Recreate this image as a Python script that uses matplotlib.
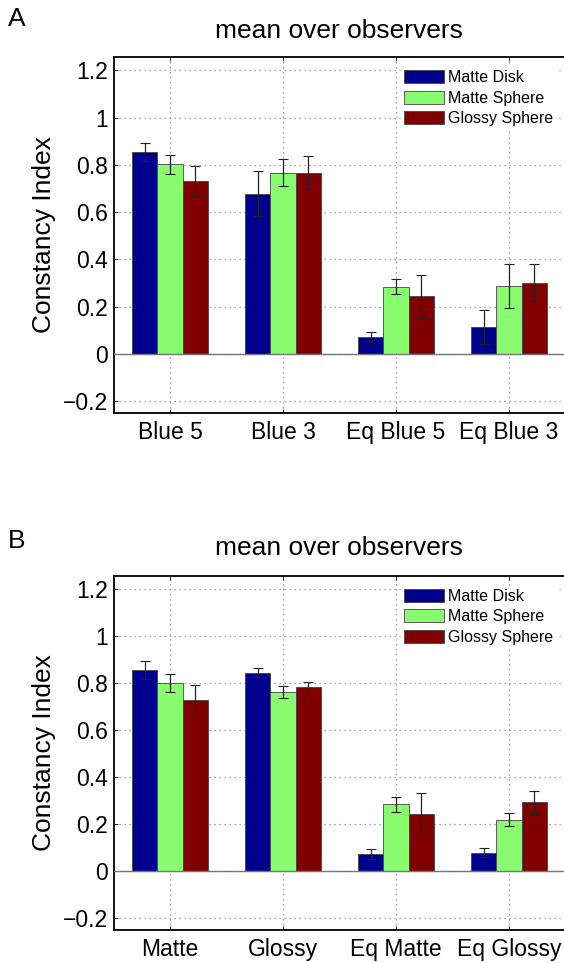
import numpy as np
import matplotlib
matplotlib.use("Agg")
import matplotlib.pyplot as plt

plt.rcParams['font.family'] = ['Liberation Sans', 'DejaVu Sans']

series = ["Matte Disk", "Matte Sphere", "Glossy Sphere"]
colors = ["#00008F", "#88FB6E", "#800000"]

cats_a = ["Blue 5", "Blue 3", "Eq Blue 5", "Eq Blue 3"]
vals_a = {
    "Matte Disk":    [0.856, 0.679, 0.072, 0.114],
    "Matte Sphere":  [0.802, 0.768, 0.285, 0.288],
    "Glossy Sphere": [0.731, 0.768, 0.244, 0.302],
}
errs_a = {
    "Matte Disk":    [0.038, 0.094, 0.022, 0.073],
    "Matte Sphere":  [0.039, 0.057, 0.031, 0.092],
    "Glossy Sphere": [0.064, 0.070, 0.090, 0.079],
}

cats_b = ["Matte", "Glossy", "Eq Matte", "Eq Glossy"]
vals_b = {
    "Matte Disk":    [0.855, 0.844, 0.072, 0.079],
    "Matte Sphere":  [0.800, 0.762, 0.285, 0.219],
    "Glossy Sphere": [0.729, 0.782, 0.244, 0.294],
}
errs_b = {
    "Matte Disk":    [0.038, 0.019, 0.022, 0.019],
    "Matte Sphere":  [0.039, 0.026, 0.031, 0.028],
    "Glossy Sphere": [0.064, 0.024, 0.090, 0.049],
}

yticks = [-0.2, 0, 0.2, 0.4, 0.6, 0.8, 1, 1.2]
yticklabels = ["\u22120.2", "0", "0.2", "0.4", "0.6", "0.8", "1", "1.2"]

W, H = 564, 963
fig = plt.figure(figsize=(W / 100, H / 100), dpi=100)


def panel(rect, cats, vals, errs, letter, title_y, letter_y):
    ax = fig.add_axes(rect)
    x = np.arange(1, len(cats) + 1)
    bw = 0.225
    for i, s in enumerate(series):
        xs = x + (i - 1) * bw
        ax.bar(xs, vals[s], width=bw, color=colors[i], edgecolor="#444444",
               linewidth=0.6, label=s, zorder=3)
        ax.errorbar(xs, vals[s], yerr=errs[s], fmt="none", ecolor="#222222",
                    elinewidth=0.9, capsize=3.5, capthick=0.8, zorder=4)
    ax.axhline(0, color="#777777", linewidth=1.0, zorder=3.5)
    ax.set_xlim(0.5, 4.5)
    ax.set_ylim(-0.25, 1.257)
    ax.set_xticks(x)
    ax.set_xticklabels(cats, fontsize=16.5)
    ax.set_yticks(yticks)
    ax.set_yticklabels(yticklabels, fontsize=16.5)
    ax.tick_params(direction="in", length=3, width=0.6, pad=4, top=True, right=False)
    ax.tick_params(axis="x", pad=6)
    ax.grid(True, linestyle=(0, (1, 3)), color="#888888", linewidth=0.9, zorder=0)
    ax.set_axisbelow(True)
    for sp in ax.spines.values():
        sp.set_linewidth(1.3)
    ax.spines["right"].set_visible(False)
    ax.set_ylabel("Constancy Index", fontsize=19, labelpad=5)
    leg = ax.legend(loc="upper left", bbox_to_anchor=(0.635, 0.972), fontsize=11.5,
                    frameon=True, fancybox=False, edgecolor="white", framealpha=1,
                    handlelength=2.5, handleheight=0.9, handletextpad=0.3,
                    labelspacing=0.33, borderpad=0.2, borderaxespad=0)
    for p in leg.get_patches():
        p.set_edgecolor("#444444")
    fig.text(339 / W, title_y, "mean over observers", ha="center",
             va="center", fontsize=19)
    fig.text(8 / W, letter_y, letter, ha="left", va="center", fontsize=19)
    return ax


left = 113.5 / W
width = (565.5 - 113.5) / W
panel([left, 1 - 413 / H, width, 356 / H], cats_a, vals_a, errs_a, "A",
      1 - 31 / H, 1 - 19 / H)
panel([left, 1 - 930 / H, width, 354.3 / H], cats_b, vals_b, errs_b, "B",
      1 - 548 / H, 1 - 541 / H)

fig.savefig("out.png", dpi=100)
